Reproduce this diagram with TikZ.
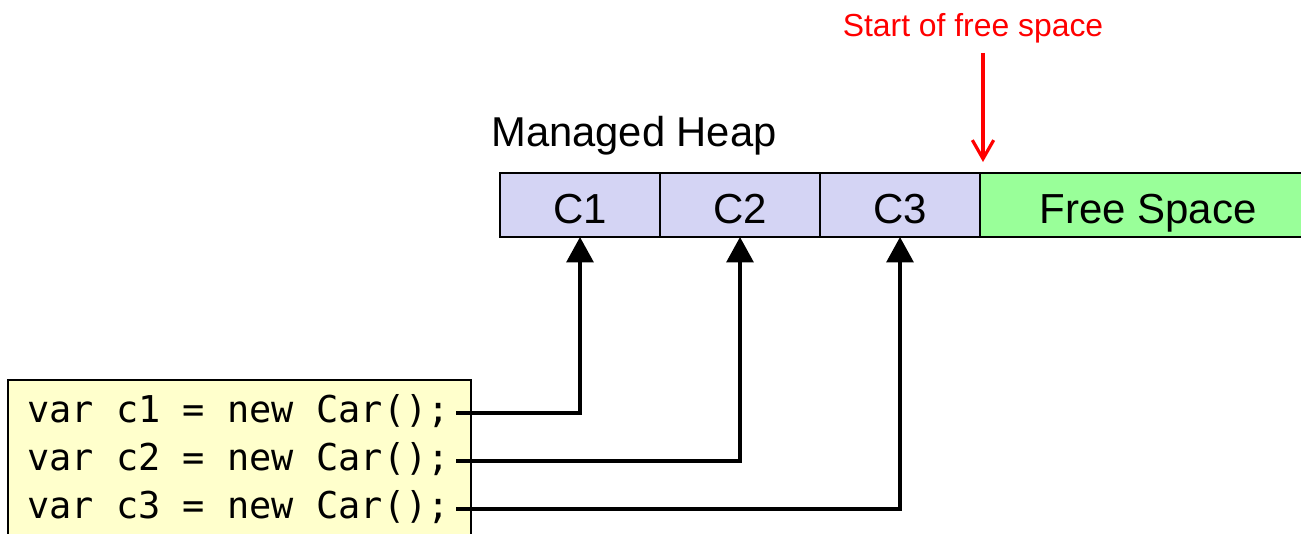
\documentclass[tikz,border=0pt]{standalone}
\usepackage{fontspec}
\setmainfont{Liberation Sans}
\setmonofont{DejaVu Sans Mono}
\usetikzlibrary{arrows.meta,positioning}
\definecolor{objfill}{HTML}{D4D4F4}
\definecolor{freefill}{HTML}{99FF99}
\definecolor{codefill}{HTML}{FFFFCC}
\tikzset{
	cell/.style={draw,line width=1.1pt,rectangle,minimum width=120pt,minimum height=48pt,outer sep=0pt,inner sep=0pt,text height=27pt,text depth=0pt,font=\fontsize{31.5}{36}\selectfont},
	obj/.style={cell,fill=objfill},
	freecell/.style={cell,fill=freefill,minimum width=252pt},
	codebox/.style={draw,line width=1.5pt,fill=codefill,minimum width=347pt,minimum height=140pt,outer sep=0pt},
	codeline/.style={inner sep=0pt,font=\ttfamily\fontsize{27.7}{33}\selectfont},
	ptr/.style={-{Triangle[length=19pt,width=20pt]},line width=3pt},
	freeptr/.style={-{Straight Barb[length=14pt,width=16pt]},line width=2.4pt,red}
}

\begin{document}
\begin{tikzpicture}[x=0.75pt,y=0.75pt]
            \useasboundingbox (0,0) rectangle (1301,533);
            % the heap
            \node[obj] (c1) at (580,328) {C1};
            \node[obj,right=0pt of c1] (c2) {C2};
            \node[obj,right=0pt of c2] (c3) {C3};
            \node[freecell,right=0pt of c3] (free) {Free Space};
            \node[inner sep=0pt,anchor=base west,font=\fontsize{31.3}{36}\selectfont] (heaplbl) at (491,387) {Managed Heap};
            % where the next object goes
            \node[red,inner sep=0pt,anchor=base,font=\fontsize{23.9}{28}\selectfont] (startlbl) at (973,496) {Start of free space};
            \coordinate (freetop) at ([shift={(3,11)}]free.north west);
            \draw[freeptr] (startlbl.south -| freetop) ++(0,-9) -- (freetop);
            % the code
            \node[codebox,anchor=north west] (code) at (8,153) {};
            \node[codeline,anchor=base west] (line1) at (27,111) {var c1 = new Car();};
            \node[codeline,anchor=base west] (line2) at (27,63) {var c2 = new Car();};
            \node[codeline,anchor=base west] (line3) at (27,15) {var c3 = new Car();};
            \draw[ptr] ([shift={(6,9)}]line1.base east) -| (c1.south);
            \draw[ptr] ([shift={(6,9)}]line2.base east) -| (c2.south);
            \draw[ptr] ([shift={(6,9)}]line3.base east) -| (c3.south);
        \end{tikzpicture}
\end{document}
